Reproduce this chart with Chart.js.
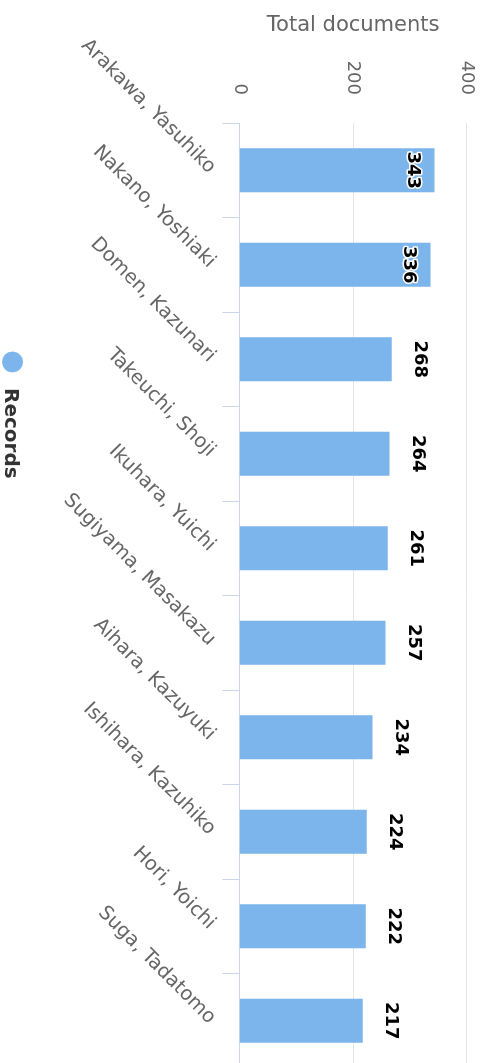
<!DOCTYPE html>
<html>
<head>
<meta charset="utf-8">
<script src="https://cdn.jsdelivr.net/npm/chart.js@4.4.1/dist/chart.umd.min.js"></script>
<style>
  html, body { margin: 0; padding: 0; width: 492px; height: 1063px; overflow: hidden; background: #fff; }
  /* chart is drawn as a column chart, then the whole thing is turned a quarter clockwise */
  #wrap { position: absolute; left: 0; top: 0; width: 1075px; height: 492px; background: #fff;
          transform-origin: 0 0; transform: translate(492px, 0) rotate(90deg); }
</style>
</head>
<body>
<div id="wrap"><canvas id="chart" width="1075" height="492"></canvas></div>
<script>
const authors = [
    'Arakawa, Yasuhiko',
    'Nakano, Yoshiaki',
    'Domen, Kazunari',
    'Takeuchi, Shoji',
    'Ikuhara, Yuichi',
    'Sugiyama, Masakazu',
    'Aihara, Kazuyuki',
    'Ishihara, Kazuhiko',
    'Hori, Yoichi',
    'Suga, Tadatomo'
]
const records = [343, 336, 268, 264, 261, 257, 234, 224, 222, 217]
const valueTicks = [0, 200, 400]
const seriesName = 'Records'
const axisTitle = 'Total documents'

const font = '"DejaVu Sans", sans-serif'
Chart.defaults.font.family = font

// value labels: above the column, or inside its top when there is no room
const valueLabels = {
    id: 'valueLabels',
    afterDatasetsDraw(chart) {
        const ctx = chart.ctx
        const area = chart.chartArea
        const meta = chart.getDatasetMeta(0)
        ctx.save()
        ctx.font = 'bold 18px ' + font
        ctx.textAlign = 'center'
        ctx.textBaseline = 'middle'
        ctx.lineJoin = 'round'
        ctx.lineWidth = 3
        meta.data.forEach((bar, i) => {
            let y = bar.y - 28
            if (y - 9 < area.top) y = bar.y + 22
            const txt = String(chart.data.datasets[0].data[i])
            ctx.strokeStyle = '#fff'
            ctx.strokeText(txt, bar.x, y)
            ctx.fillStyle = '#000'
            ctx.fillText(txt, bar.x, y)
        })
        ctx.restore()
    }
}

const sideLegend = {
    id: 'sideLegend',
    afterDraw(chart) {
        const ctx = chart.ctx
        const ds = chart.data.datasets[0]
        ctx.save()
        ctx.fillStyle = ds.backgroundColor
        ctx.beginPath()
        ctx.arc(362, 479.5, 10.5, 0, Math.PI * 2)
        ctx.fill()
        ctx.font = 'bold 20px ' + font
        ctx.fillStyle = '#333333'
        ctx.textBaseline = 'middle'
        ctx.fillText(ds.label, 388, 482)
        ctx.restore()
    }
}

new Chart(document.getElementById('chart'), {
    type: 'bar',
    data: {
        labels: authors,
        datasets: [{
            label: seriesName,
            data: records,
            backgroundColor: '#7cb5ec',
            borderWidth: 0,
            barPercentage: 0.466,
            categoryPercentage: 1
        }]
    },
    options: {
        responsive: false,
        animation: false,
        layout: { padding: { top: 25, right: 7, bottom: 0, left: 0 } },
        plugins: {
            legend: { display: false },
            tooltip: { enabled: false }
        },
        scales: {
            x: {
                grid: { drawOnChartArea: false, color: '#ccd6eb', tickLength: 17, offset: true },
                border: { color: '#ccd6eb' },
                ticks: {
                    autoSkip: false,
                    minRotation: 45,
                    maxRotation: 45,
                    padding: 2,
                    color: '#666666',
                    font: { size: 19.5 }
                },
                afterFit: (s) => {
                    s.height = 239.3
                    s.paddingLeft = 0
                    s.paddingRight = 0
                }
            },
            y: {
                min: 0,
                max: 400,
                afterBuildTicks: (s) => { s.ticks = valueTicks.map(v => ({ value: v })) },
                grid: {
                    drawTicks: false,
                    color: (c) => c.tick && c.tick.value === 0 ? 'rgba(0,0,0,0)' : '#e6e6e6'
                },
                border: { display: false },
                ticks: { padding: 28, color: '#666666', font: { size: 18 } },
                title: {
                    display: true,
                    text: axisTitle,
                    color: '#666666',
                    font: { size: 21 },
                    padding: { top: 13, bottom: 0 }
                },
                afterFit: (s) => {
                    s.width = 123
                    s.paddingTop = 0
                    s.paddingBottom = 0
                }
            }
        }
    },
    plugins: [valueLabels, sideLegend]
})
</script>
</body>
</html>
